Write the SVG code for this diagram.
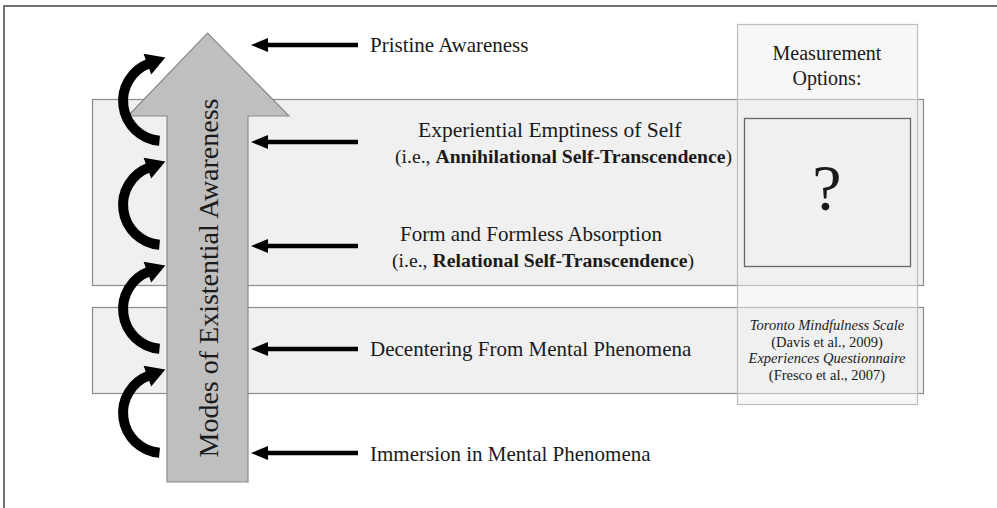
<svg xmlns="http://www.w3.org/2000/svg" width="997" height="508" viewBox="0 0 997 508">
<style>
  .t { font-family: "Liberation Serif", "Times New Roman", serif; fill: #1a1a1a; }
  .lbl { font-size: 21px; }
  .lbl2 { font-size: 19.7px; }
  .cite { font-size: 14.5px; }
  .band { fill: #f0f0f0; stroke: #8c8c8c; stroke-width: 1.2; }
  .harrow { stroke: #000; stroke-width: 4.5; fill: none; marker-end: url(#ah); }
  .arc { stroke: #000; stroke-width: 10; fill: none; }
</style>
<defs>
  <marker id="ah" markerUnits="userSpaceOnUse" markerWidth="17" markerHeight="14" viewBox="0 0 17 14" refX="2" refY="7" orient="auto">
    <path d="M0,0 L17,7 L0,14 z" fill="#000"/>
  </marker>
  <g id="curl">
    <path class="arc" d="M159.5,39.8 A40,40 0 0 1 149.3,-37.6"/>
    <polygon points="165.3,-43.4 151.2,-26.6 143.6,-47.2" fill="#000"/>
  </g>
</defs>
<rect width="997" height="508" fill="#fff"/>
<rect x="4" y="6" width="1000" height="510" fill="none" stroke="#444" stroke-width="1.5"/>

<g id="band-upper"><rect class="band" x="92.5" y="99.5" width="831" height="186"/></g>
<g id="band-lower"><rect class="band" x="92.5" y="307.5" width="831" height="86"/></g>

<g id="measurement">
  <rect x="737.5" y="24.5" width="180" height="380" fill="#f0f0f0" fill-opacity="0.5" stroke="#bdbdbd" stroke-width="1.2"/>
  <text class="t" x="827" y="60" font-size="20" text-anchor="middle">Measurement</text>
  <text class="t" x="827" y="85" font-size="20" text-anchor="middle">Options:</text>
</g>
<g id="question-box">
  <rect x="744.5" y="118.5" width="166" height="148" fill="none" stroke="#666" stroke-width="1.3"/>
  <text class="t" x="827" y="210" font-size="66" text-anchor="middle">?</text>
</g>
<g id="citations">
  <text class="t cite" x="827" y="330" text-anchor="middle" font-style="italic">Toronto Mindfulness Scale</text>
  <text class="t cite" x="827" y="347" text-anchor="middle">(Davis et al., 2009)</text>
  <text class="t cite" x="827" y="363" text-anchor="middle" font-style="italic">Experiences Questionnaire</text>
  <text class="t cite" x="827" y="380" text-anchor="middle">(Fresco et al., 2007)</text>
</g>

<g id="big-arrow">
  <polygon points="167,482 248,482 248,116 289,116 207.5,33 128,116 167,116" fill="#bfbfbf" stroke="#8a8a8a" stroke-width="1.2"/>
  <text class="t" transform="translate(218,278) rotate(-90)" font-size="28" text-anchor="middle">Modes of Existential Awareness</text>
</g>

<g id="connectors">
  <use href="#curl" transform="translate(0,413)"/>
  <use href="#curl" transform="translate(0,309)"/>
  <use href="#curl" transform="translate(0,205)"/>
  <use href="#curl" transform="translate(0,101)"/>
  <line class="harrow" x1="358" y1="45" x2="266" y2="45"/>
  <line class="harrow" x1="358" y1="142" x2="266" y2="142"/>
  <line class="harrow" x1="358" y1="246" x2="266" y2="246"/>
  <line class="harrow" x1="358" y1="349" x2="266" y2="349"/>
  <line class="harrow" x1="358" y1="453" x2="266" y2="453"/>
</g>

<g id="pristine"><text class="t lbl" x="370" y="52">Pristine Awareness</text></g>
<g id="emptiness">
  <text class="t" x="418" y="137" font-size="21.5">Experiential Emptiness of Self</text>
  <text class="t lbl2" x="395" y="163">(i.e., <tspan font-weight="bold">Annihilational Self-Transcendence</tspan>)</text>
</g>
<g id="absorption">
  <text class="t lbl" x="400" y="241">Form and Formless Absorption</text>
  <text class="t lbl2" x="392" y="267">(i.e., <tspan font-weight="bold">Relational Self-Transcendence</tspan>)</text>
</g>
<g id="decentering"><text class="t lbl" x="370" y="356">Decentering From Mental Phenomena</text></g>
<g id="immersion"><text class="t lbl" x="370" y="461">Immersion in Mental Phenomena</text></g>
</svg>
